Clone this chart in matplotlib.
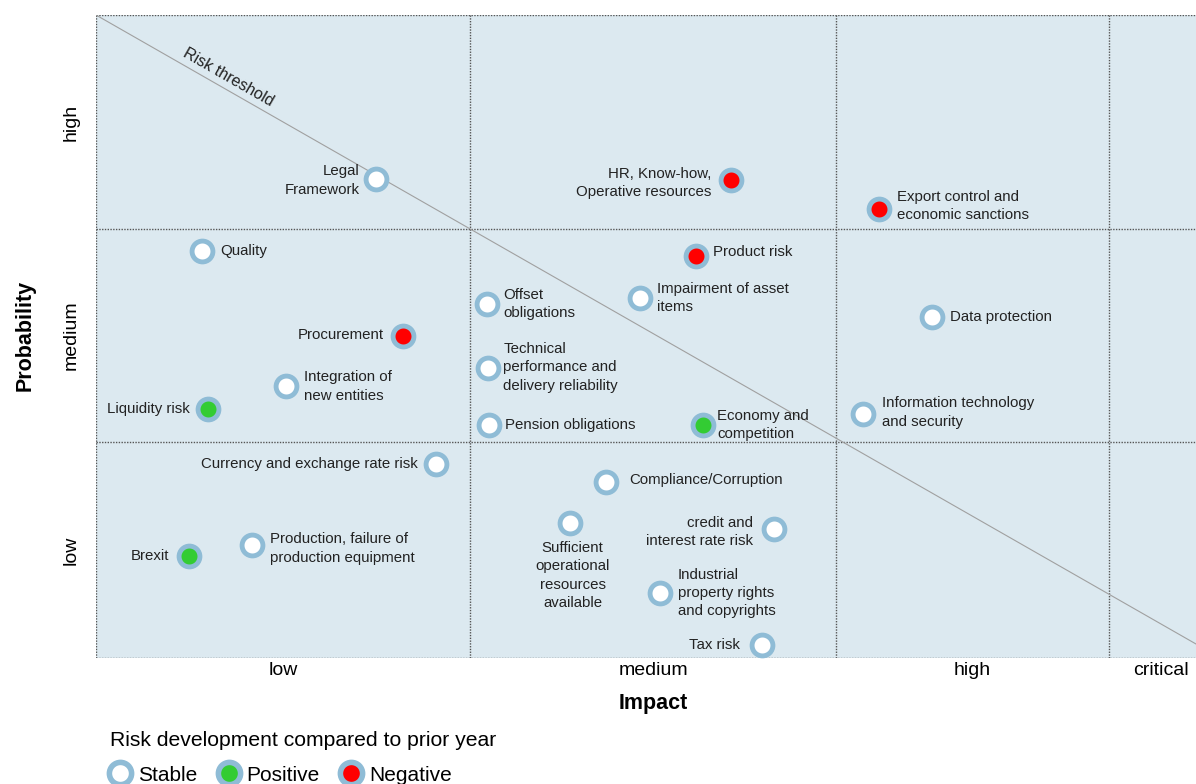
import matplotlib.pyplot as plt
from matplotlib.lines import Line2D

plt.rcParams['font.family'] = ['Liberation Sans', 'DejaVu Sans']

# Risk map: impact (x) and probability (y) on the grid scale, trend vs. prior year
risks = [
    "Legal\nFramework",
    "HR, Know-how,\nOperative resources",
    "Export control and\neconomic sanctions",
    "Quality",
    "Product risk",
    "Offset\nobligations",
    "Impairment of asset\nitems",
    "Data protection",
    "Procurement",
    "Technical\nperformance and\ndelivery reliability",
    "Integration of\nnew entities",
    "Liquidity risk",
    "Information technology\nand security",
    "Pension obligations",
    "Economy and\ncompetition",
    "Currency and exchange rate risk",
    "Compliance/Corruption",
    "Sufficient\noperational\nresources\navailable",
    "credit and\ninterest rate risk",
    "Brexit",
    "Production, failure of\nproduction equipment",
    "Industrial\nproperty rights\nand copyrights",
    "Tax risk",
]
impact = [280, 635, 783, 106, 600, 391, 544, 836, 307, 392, 190, 112, 767, 393,
          607, 340, 510, 474, 678, 93, 156, 564, 666]
probability = [479, 478, 449, 407, 402, 354, 360, 341, 322, 290, 272, 249, 244,
               233, 233, 194, 176, 135, 129, 102, 113, 65, 13]
trend = ["stable", "negative", "negative", "stable", "negative", "stable", "stable",
         "stable", "negative", "stable", "stable", "positive", "stable", "stable",
         "positive", "stable", "stable", "stable", "stable", "positive", "stable",
         "stable", "stable"]

impact_bands = [0, 374, 740, 1013, 1116]
impact_labels = ["low", "medium", "high", "critical"]
prob_bands = [0, 216, 429, 643]
prob_labels = ["low", "medium", "high"]

# threshold runs from top-left corner down across the map
threshold_x = [0, 1100]
threshold_y = [643, 14]

# label placement: side of the marker and offset in points
placement = {
    "Legal\nFramework": ("l", 12, -1),
    "HR, Know-how,\nOperative resources": ("l", 14, -2),
    "Export control and\neconomic sanctions": ("r", 13, 2),
    "Quality": ("r", 13, 0),
    "Product risk": ("r", 12, 3),
    "Offset\nobligations": ("r", 12, 0),
    "Impairment of asset\nitems": ("r", 12, 0),
    "Data protection": ("r", 13, 0),
    "Procurement": ("l", 14, 1),
    "Technical\nperformance and\ndelivery reliability": ("r", 11, 0.5),
    "Integration of\nnew entities": ("r", 13, -0.5),
    "Liquidity risk": ("l", 13, 0),
    "Information technology\nand security": ("r", 14, 1),
    "Pension obligations": ("r", 11.5, 0),
    "Economy and\ncompetition": ("r", 10, 0),
    "Currency and exchange rate risk": ("l", 13, 0),
    "Compliance/Corruption": ("r", 17, 1.5),
    "Sufficient\noperational\nresources\navailable": ("b", 2, -13),
    "credit and\ninterest rate risk": ("l", 15, -2),
    "Brexit": ("l", 14, 0),
    "Production, failure of\nproduction equipment": ("r", 13, -2.5),
    "Industrial\nproperty rights\nand copyrights": ("r", 13, 0),
    "Tax risk": ("l", 16, 0),
}

face = {"stable": "white", "positive": "#33cc33", "negative": "#ff0000"}
ring = "#8fbcd6"
bg = "#dce9f0"
grid_col = "#555555"

fig = plt.figure(figsize=(11.96, 7.84), dpi=100)
ax = fig.add_axes([96 / 1196, 126 / 784, 1116 / 1196, 643 / 784])
ax.set_xlim(0, 1116)
ax.set_ylim(0, 643)
ax.set_facecolor(bg)
for s in ax.spines.values():
    s.set_visible(False)

# dotted grid and frame
for x in impact_bands:
    ax.axvline(x, color=grid_col, lw=1, ls=(0, (1, 1)))
for y in prob_bands:
    ax.axhline(y, color=grid_col, lw=1, ls=(0, (1, 1)))

ax.plot(threshold_x, threshold_y, color="#a0a0a0", lw=0.8, zorder=2)
ax.text(129, 574, "Risk threshold", rotation=-29.8, rotation_mode="anchor",
        ha="center", va="bottom", fontsize=11.5, color="#222222")

for name, x, y, t in zip(risks, impact, probability, trend):
    ax.plot(x, y, "o", ms=15, mfc=face[t], mec=ring, mew=3.5, zorder=4)
    side, dx, dy = placement[name]
    if side == "r":
        ha, va, off, ma = "left", "center", (dx, dy), "left"
    elif side == "l":
        ha, va, off, ma = "right", "center", (-dx, dy), "right"
    else:
        ha, va, off, ma = "center", "top", (dx, dy), "center"
    ax.annotate(name, (x, y), xytext=off, textcoords="offset points",
                ha=ha, va=va, fontsize=10.8, color="#222222",
                linespacing=1.4, multialignment=ma, zorder=5)

xt = [(a + b) / 2 for a, b in zip(impact_bands[:-1], impact_bands[1:])]
yt = [(a + b) / 2 for a, b in zip(prob_bands[:-1], prob_bands[1:])]
ax.set_xticks(xt)
ax.set_xticklabels(impact_labels, fontsize=14)
ax.set_yticks(yt)
ax.set_yticklabels(prob_labels, fontsize=14, rotation=90, va="center")
ax.tick_params(length=0, pad=3)
ax.tick_params(axis="y", pad=12)

fig.text(653 / 1196, 1 - 704 / 784, "Impact", ha="center", va="center",
         fontsize=15.5, fontweight="bold")
fig.text(25 / 1196, 1 - 335 / 784, "Probability", ha="center", va="center",
         fontsize=15.5, fontweight="bold", rotation=90)

handles = [Line2D([], [], ls="none", marker="o", ms=16, mfc=face[k], mec=ring, mew=4)
           for k in ["stable", "positive", "negative"]]
leg = fig.legend(handles, ["Stable", "Positive", "Negative"], ncol=3,
                 loc="upper left", bbox_to_anchor=(110 / 1196, 1 - 731 / 784),
                 frameon=False, fontsize=15, handlelength=1.0, handletextpad=0.36,
                 columnspacing=1.0, title="Risk development compared to prior year",
                 title_fontsize=15.2, borderaxespad=0, borderpad=0, labelspacing=0.75)
leg._legend_box.align = "left"

fig.savefig("out.png", dpi=100)
